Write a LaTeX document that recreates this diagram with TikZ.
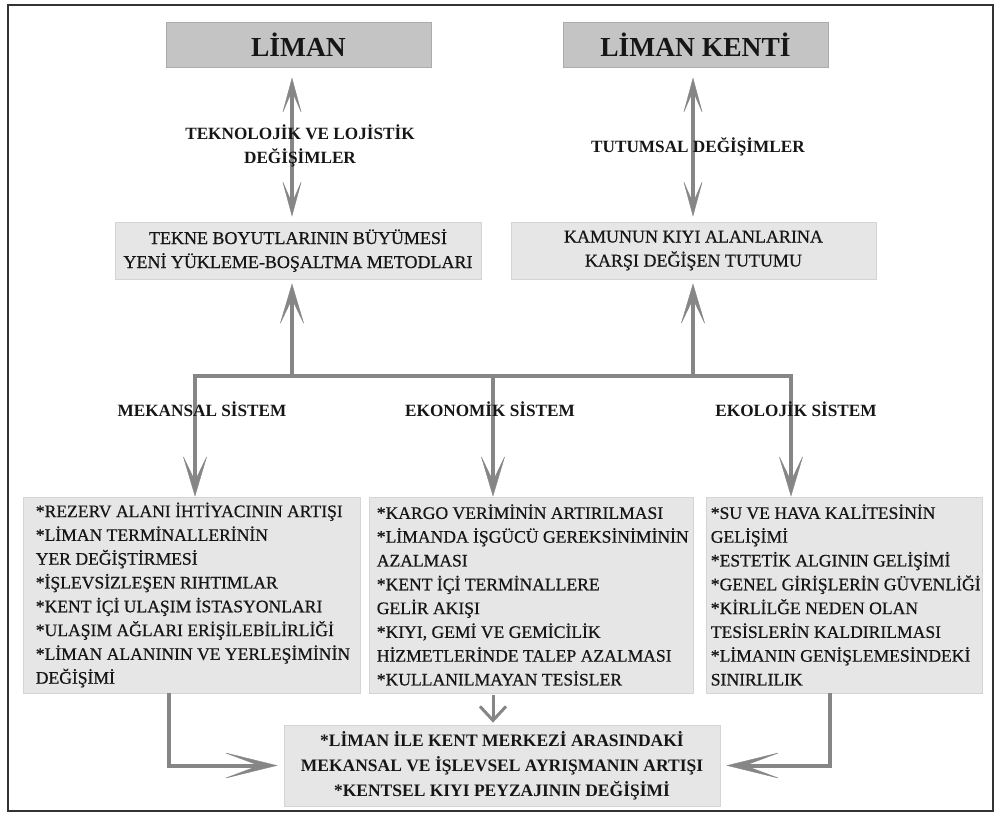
\documentclass[tikz,border=0pt]{standalone}
\usepackage{fontspec}
\setmainfont{Liberation Serif}
\newfontfamily\bodyfont[FakeBold=0.6]{Liberation Serif}
\usetikzlibrary{arrows.meta}

\definecolor{titlefill}{HTML}{C4C4C4}
\definecolor{titleedge}{HTML}{ABABAB}
\definecolor{boxfill}{HTML}{E6E6E6}
\definecolor{boxedge}{HTML}{D4D4D4}
\definecolor{arrowgray}{HTML}{868686}
\definecolor{framecol}{HTML}{333333}
\definecolor{ink}{HTML}{161616}

\tikzset{
  titlebox/.style={draw=titleedge, fill=titlefill, line width=1pt,
    minimum width=265pt, minimum height=45pt, inner sep=0pt,
    font=\bfseries\fontsize{27.5}{32}\selectfont, text=ink},
  infobox/.style={draw=boxedge, fill=boxfill, line width=0.8pt, inner sep=0pt},
  causetext/.style={align=center, inner sep=0pt, text=ink,
    font=\bodyfont\fontsize{18}{24}\selectfont},
  listtext/.style={align=left, anchor=west, inner sep=0pt, text=ink,
    font=\bodyfont\fontsize{17.6}{23.8}\selectfont},
  resulttext/.style={align=center, inner sep=0pt, text=ink,
    font=\bfseries\fontsize{17.5}{25}\selectfont},
  flowlabel/.style={align=center, inner sep=0pt, text=ink,
    font=\bfseries\fontsize{17.2}{24}\selectfont},
  headbig/.tip={Stealth[length=42pt, width=25pt, inset=26pt, line width=0.4pt]},
  headmid/.tip={Stealth[length=37pt, width=20pt, inset=23pt, line width=0.4pt]},
  headside/.tip={Stealth[length=55pt, width=27pt, inset=36pt, line width=0.4pt]},
  twoway/.style={draw=arrowgray, line width=4pt, {headmid}-{headmid}},
  oneway/.style={draw=arrowgray, line width=4pt, -{headbig}},
  sideway/.style={draw=arrowgray, line width=4pt, -{headside}},
  thinway/.style={draw=arrowgray, line width=3pt,
    -{Straight Barb[length=14pt, width=26pt, line width=3pt]}},
}

\begin{document}
\begin{tikzpicture}[x=1pt, y=-1pt]
  % page and frame
  \fill[white] (0,0) rectangle (997,820);
  \useasboundingbox (0,0) rectangle (997,820);
  \draw[framecol, line width=2pt] (8,5) rectangle (993,811);

  % top level: port and port city
  \node[titlebox] (liman) at (298.5,44.5) {LİMAN};
  \node[titlebox] (kent)  at (695.5,44.5) {LİMAN KENTİ};

  % driving changes
  \node[infobox, minimum width=366pt, minimum height=57pt] (tekne) at (298,250.5) {};
  \node[causetext] (teknetext) at (tekne.center)
    {TEKNE BOYUTLARININ BÜYÜMESİ\\YENİ YÜKLEME-BOŞALTMA METODLARI};
  \node[infobox, minimum width=365pt, minimum height=57pt] (kamu) at (693.5,250.5) {};
  \node[causetext] (kamutext) at (kamu.center)
    {KAMUNUN KIYI ALANLARINA\\KARŞI DEĞİŞEN TUTUMU};

  % three systems
  \node[infobox, minimum width=337pt, minimum height=196pt] (mek)  at (191.5,595) {};
  \node[infobox, minimum width=324pt, minimum height=196pt] (eko)  at (531,595) {};
  \node[infobox, minimum width=276pt, minimum height=196pt] (ekol) at (844,595) {};

  % combined outcome
  \node[infobox, minimum width=436pt, minimum height=81pt] (result) at (502,765.5) {};

  % connector positions
  \coordinate (ax) at (292,0);
  \coordinate (bx) at (693,0);
  \coordinate (busL) at (195,376);
  \coordinate (busM) at (493,376);
  \coordinate (busR) at (791,376);
  \coordinate (outL) at (169,0);
  \coordinate (outR) at (830,0);

  % two-way links between the top boxes and the changes
  \draw[twoway, shorten <=10pt, shorten >=5pt] (ax |- liman.south) -- (ax |- tekne.north);
  \draw[twoway, shorten <=10pt, shorten >=5pt] (bx |- kent.south) -- (bx |- kamu.north);

  % distribution bus
  \draw[oneway, shorten >=4pt] (ax |- busL) -- (ax |- tekne.south);
  \draw[oneway, shorten >=4pt] (bx |- busL) -- (bx |- kamu.south);
  \draw[oneway] (busM) -- (busL) -- (busL |- mek.north);
  \draw[oneway] (busM) -- (busR) -- (busR |- ekol.north);
  \draw[oneway] (busM) -- (busM |- eko.north);

  % towards the outcome
  \draw[sideway, shorten >=6pt] (outL |- mek.south) |- (result.west);
  \draw[sideway, shorten >=6pt] (outR |- ekol.south) |- (result.east);
  \draw[thinway, shorten <=2pt, shorten >=2pt] (busM |- eko.south) -- (busM |- result.north);

  % labels on the arrows
  \node[flowlabel] (teklab) at (300,146) {TEKNOLOJİK VE LOJİSTİK\\DEĞİŞİMLER};
  \node[flowlabel] (tutlab) at (698,147) {TUTUMSAL DEĞİŞİMLER};
  \node[flowlabel] (meklab)  at (202,409) {MEKANSAL SİSTEM};
  \node[flowlabel] (ekolab)  at (490,409) {EKONOMİK SİSTEM};
  \node[flowlabel] (ekollab) at (796,409) {EKOLOJİK SİSTEM};

  % box contents
  \node[listtext] (mektext) at ([xshift=13pt]mek.west)
    {*REZERV ALANI İHTİYACININ ARTIŞI\\
     *LİMAN TERMİNALLERİNİN\\
     YER DEĞİŞTİRMESİ\\
     *İŞLEVSİZLEŞEN RIHTIMLAR\\
     *KENT İÇİ ULAŞIM İSTASYONLARI\\
     *ULAŞIM AĞLARI ERİŞİLEBİLİRLİĞİ\\
     *LİMAN ALANININ VE YERLEŞİMİNİN\\
     DEĞİŞİMİ};
  \node[listtext] (ekotext) at ([xshift=8pt]eko.west)
    {*KARGO VERİMİNİN ARTIRILMASI\\
     *LİMANDA İŞGÜCÜ GEREKSİNİMİNİN\\
     AZALMASI\\
     *KENT İÇİ TERMİNALLERE\\
     GELİR AKIŞI\\
     *KIYI, GEMİ VE GEMİCİLİK\\
     HİZMETLERİNDE TALEP AZALMASI\\
     *KULLANILMAYAN TESİSLER};
  \node[listtext] (ekoltext) at ([xshift=5pt]ekol.west)
    {*SU VE HAVA KALİTESİNİN\\
     GELİŞİMİ\\
     *ESTETİK ALGININ GELİŞİMİ\\
     *GENEL GİRİŞLERİN GÜVENLİĞİ\\
     *KİRLİLĞE NEDEN OLAN\\
     TESİSLERİN KALDIRILMASI\\
     *LİMANIN GENİŞLEMESİNDEKİ\\
     SINIRLILIK};
  \node[resulttext] (resulttx) at (result.center)
    {*LİMAN İLE KENT MERKEZİ ARASINDAKİ\\
     MEKANSAL VE İŞLEVSEL AYRIŞMANIN ARTIŞI\\
     *KENTSEL KIYI PEYZAJININ DEĞİŞİMİ};
\end{tikzpicture}
\end{document}
